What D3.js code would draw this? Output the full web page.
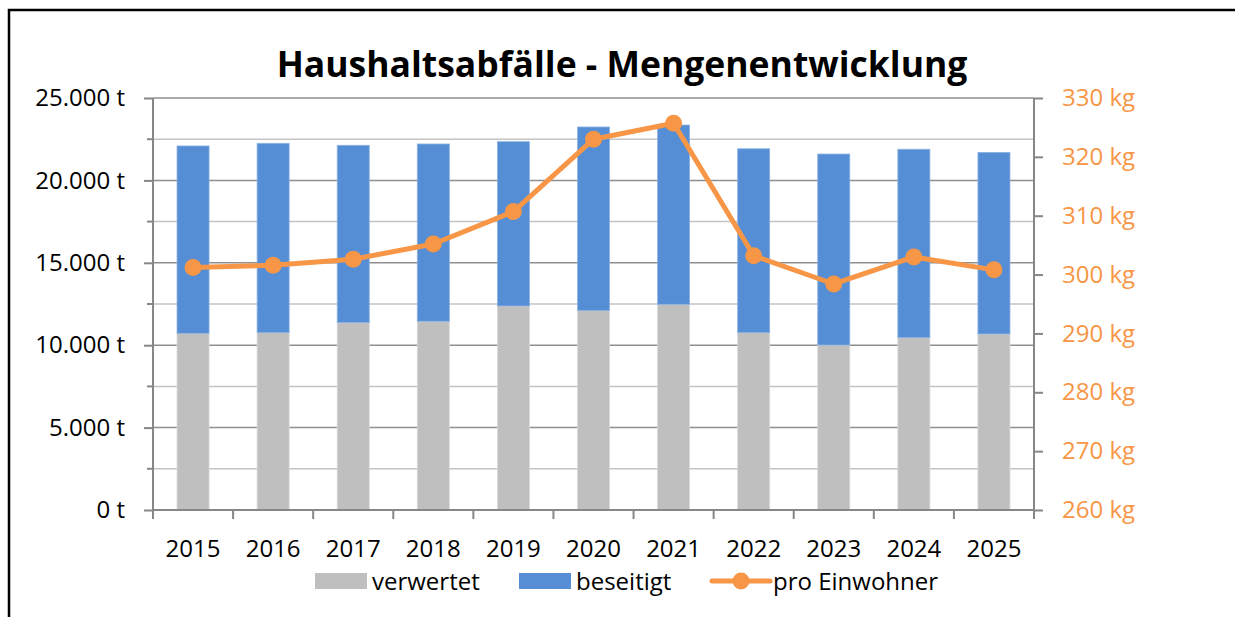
<!DOCTYPE html>
<html>
<head>
<meta charset="utf-8">
<script src="https://cdn.jsdelivr.net/npm/d3@7"></script>
<style>
  body { margin: 0; background: #fff; }
  svg { display: block; font-family: "Open Sans", "Noto Sans", sans-serif; }
</style>
</head>
<body>
<svg id="chart" width="1235" height="617"></svg>
<script>
// Chart data
const years = ["2015", "2016", "2017", "2018", "2019", "2020", "2021", "2022", "2023", "2024", "2025"];
const verwertet = [10720, 10760, 11370, 11450, 12380, 12100, 12480, 10760, 10010, 10460, 10680];
const beseitigt = [11370, 11490, 10760, 10760, 9970, 11140, 10880, 11160, 11590, 11430, 11020];
const proEinwohner = [301.2, 301.6, 302.6, 305.2, 310.7, 323.0, 325.7, 303.2, 298.4, 303.0, 300.8];
const leftTicks = [0, 5000, 10000, 15000, 20000, 25000];
const leftMinor = [2500, 7500, 12500, 17500, 22500];
const rightTicks = [260, 270, 280, 290, 300, 310, 320, 330];
const seriesNames = ["verwertet", "beseitigt", "pro Einwohner"];

const colGray = "#bfbfbf", colBlue = "#558ed5", colOrange = "#f79646", colAxis = "#878787";

const svg = d3.select("#chart");
const plotL = 153, plotR = 1034, plotT = 98, plotB = 510;

const x = d3.scaleBand().domain(years).range([plotL, plotR]).paddingInner(0.6).paddingOuter(0.3);
const y = d3.scaleLinear().domain([0, 25000]).range([plotB, plotT]);
const y2 = d3.scaleLinear().domain([260, 330]).range([plotB, plotT]);

// frame
svg.append("path")
  .attr("d", "M9,617V10H1235")
  .attr("fill", "none")
  .attr("stroke", "#000")
  .attr("stroke-width", 2.5);

// title
svg.append("text")
  .attr("x", 622).attr("y", 77)
  .attr("text-anchor", "middle")
  .attr("font-size", 35.5)
  .attr("font-weight", "bold")
  .attr("fill", "#000")
  .text("Haushaltsabfälle - Mengenentwicklung");

// gridlines
svg.append("g").selectAll("line")
  .data(leftMinor)
  .join("line")
  .attr("x1", plotL).attr("x2", plotR)
  .attr("y1", d => y(d)).attr("y2", d => y(d))
  .attr("stroke", "#c4c4c4").attr("stroke-width", 1.5);
svg.append("g").selectAll("line")
  .data(leftTicks)
  .join("line")
  .attr("x1", plotL).attr("x2", plotR)
  .attr("y1", d => y(d)).attr("y2", d => y(d))
  .attr("stroke", "#8f8f8f").attr("stroke-width", 1.5);

// stacked bars
const stacked = d3.stack().keys([0, 1])(years.map((yr, i) => [verwertet[i], beseitigt[i]]));
const barCols = [colGray, colBlue];
const barEdges = ["#d9d9d9", "#8db3e2"];
stacked.forEach((layer, k) => {
  svg.append("g").selectAll("rect")
    .data(layer)
    .join("rect")
    .attr("x", (d, i) => x(years[i]))
    .attr("width", x.bandwidth())
    .attr("y", d => y(d[1]))
    .attr("height", d => y(d[0]) - y(d[1]))
    .attr("fill", barCols[k])
    .attr("stroke", barEdges[k])
    .attr("stroke-width", 0.8);
});

// left axis
const leftAxis = svg.append("g")
  .attr("transform", `translate(${plotL},0)`)
  .call(d3.axisLeft(y).tickValues(leftTicks).tickSize(9).tickPadding(19)
    .tickFormat(d => d3.format(",")(d).replace(/,/g, ".") + " t"));
leftAxis.select(".domain").remove();
leftAxis.selectAll(".tick line").attr("stroke", colAxis).attr("stroke-width", 2);
leftAxis.selectAll(".tick text").attr("font-size", 24).attr("fill", "#000")
  .attr("font-family", "'Open Sans', sans-serif");
svg.append("g").selectAll("line")
  .data(leftMinor)
  .join("line")
  .attr("x1", plotL - 6).attr("x2", plotL)
  .attr("y1", d => y(d)).attr("y2", d => y(d))
  .attr("stroke", colAxis).attr("stroke-width", 2);

// bottom axis
const bounds = years.map(yr => x(yr) - x.step() * x.paddingInner() / 2);
bounds.push(plotR);
svg.append("g").selectAll("line")
  .data(bounds)
  .join("line")
  .attr("x1", d => d).attr("x2", d => d)
  .attr("y1", plotB).attr("y2", plotB + 9)
  .attr("stroke", colAxis).attr("stroke-width", 2);
svg.append("line")
  .attr("x1", plotL).attr("x2", plotR)
  .attr("y1", plotB).attr("y2", plotB)
  .attr("stroke", colAxis).attr("stroke-width", 2);
svg.append("g").selectAll("text")
  .data(years)
  .join("text")
  .attr("x", d => x(d) + x.bandwidth() / 2)
  .attr("y", plotB + 47)
  .attr("text-anchor", "middle")
  .attr("font-size", 24)
  .attr("fill", "#000")
  .text(d => d);

// vertical axis lines
[plotL, plotR].forEach(px => {
  svg.append("line")
    .attr("x1", px).attr("x2", px)
    .attr("y1", plotT).attr("y2", plotB + 9)
    .attr("stroke", colAxis).attr("stroke-width", 2);
});

// right axis
const rightAxis = svg.append("g")
  .attr("transform", `translate(${plotR},0)`)
  .call(d3.axisRight(y2).tickValues(rightTicks).tickSize(9).tickPadding(19)
    .tickFormat(d => d + " kg"));
rightAxis.select(".domain").remove();
rightAxis.selectAll(".tick line").attr("stroke", colAxis).attr("stroke-width", 2);
rightAxis.selectAll(".tick text").attr("font-size", 24).attr("fill", colOrange)
  .attr("font-family", "'Open Sans', sans-serif");

// per-capita line
const line = d3.line()
  .x((d, i) => x(years[i]) + x.bandwidth() / 2)
  .y(d => y2(d));
svg.append("path")
  .datum(proEinwohner)
  .attr("d", line)
  .attr("fill", "none")
  .attr("stroke", colOrange)
  .attr("stroke-width", 5)
  .attr("stroke-linejoin", "round");
svg.append("g").selectAll("circle")
  .data(proEinwohner)
  .join("circle")
  .attr("cx", (d, i) => x(years[i]) + x.bandwidth() / 2)
  .attr("cy", d => y2(d))
  .attr("r", 8.5)
  .attr("fill", colOrange);

// legend
const lg = svg.append("g").attr("font-size", 24).attr("fill", "#000");
const legY = 581;
lg.append("rect").attr("x", 315).attr("y", legY - 8).attr("width", 52).attr("height", 16).attr("fill", colGray);
lg.append("text").attr("x", 372).attr("y", legY).attr("dy", "0.36em").text(seriesNames[0]);
lg.append("rect").attr("x", 519).attr("y", legY - 8).attr("width", 52).attr("height", 16).attr("fill", colBlue);
lg.append("text").attr("x", 576).attr("y", legY).attr("dy", "0.36em").text(seriesNames[1]);
lg.append("line").attr("x1", 712).attr("x2", 770).attr("y1", legY).attr("y2", legY)
  .attr("stroke", colOrange).attr("stroke-width", 5).attr("stroke-linecap", "round");
lg.append("circle").attr("cx", 741).attr("cy", legY).attr("r", 8.5).attr("fill", colOrange);
lg.append("text").attr("x", 773).attr("y", legY).attr("dy", "0.36em").text(seriesNames[2]);
</script>
</body>
</html>
